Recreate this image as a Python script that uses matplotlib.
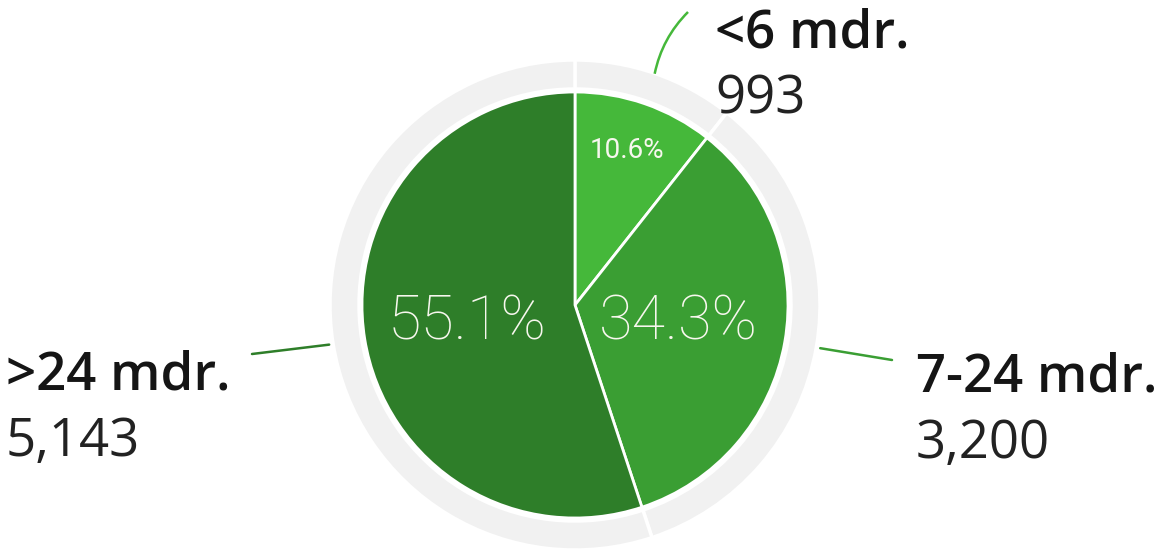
import numpy as np
import matplotlib.pyplot as plt
from matplotlib.path import Path
from matplotlib.patches import PathPatch

labels = ['<6 mdr.', '7-24 mdr.', '>24 mdr.']
counts = [993, 3200, 5143]
colors = ['#45b83a', '#3a9e33', '#2e7e29']

W, H = 1160, 552
cx, cy = 575, H - 305
r_pie = 213
r_ring = 245

fig = plt.figure(figsize=(W/100, H/100), dpi=100)
ax = fig.add_axes([0, 0, 1, 1])
ax.axis('off')

# outer grey ring, split like the pie
ax.pie(counts, radius=r_ring, center=(cx, cy), startangle=90, counterclock=False,
       colors=['#f1f1f1']*3, wedgeprops=dict(width=29, edgecolor='white', linewidth=2.5))

wedges, _ = ax.pie(counts, radius=r_pie, center=(cx, cy), startangle=90, counterclock=False,
                   colors=colors, wedgeprops=dict(edgecolor='white', linewidth=2))
ax.set_xlim(0, W)
ax.set_ylim(0, H)
ax.set_aspect('equal')

total = sum(counts)
pct = [100*c/total for c in counts]

# percentage labels inside slices
pct_pos = [(627, H - 151, 20, 'normal'), (678, H - 322, 44, 'light'), (467, H - 322, 44, 'light')]
for p, (x, y, fs, wt) in zip(pct, pct_pos):
    ax.text(x, y, f'{p:.1f}%', color='#f7f7ee', fontsize=fs, ha='center', va='center',
            family='Roboto', weight=wt)

# leader lines + outside labels
ends = [(688, H - 12), (892, H - 360), (252, H - 354)]
bend = [(662, H - 38), None, None]
text_pos = [(715, H - 48), (916, H - 392), (6, H - 390)]
for w, c, lab, n, (ex, ey), b, (tx, ty) in zip(wedges, colors, labels, counts, ends, bend, text_pos):
    ang = np.deg2rad((w.theta1 + w.theta2) / 2)
    sx = cx + (r_ring + 4) * np.cos(ang)
    sy = cy + (r_ring + 4) * np.sin(ang)
    if b is None:
        ax.plot([sx, ex], [sy, ey], color=c, lw=1.8, solid_capstyle='round')
    else:
        pth = Path([(sx - 2, sy - 4), b, (ex, ey)], [Path.MOVETO, Path.CURVE3, Path.CURVE3])
        ax.add_patch(PathPatch(pth, fc='none', ec=c, lw=1.8))
    ax.text(tx, ty, lab, fontsize=38, ha='left', va='baseline', color='#151515',
            family='Open Sans', weight='semibold')
    ax.text(tx, ty - 66, f'{n:,}', fontsize=38, ha='left', va='baseline', color='#222222',
            family='Open Sans')

fig.savefig('out.png', dpi=100)
